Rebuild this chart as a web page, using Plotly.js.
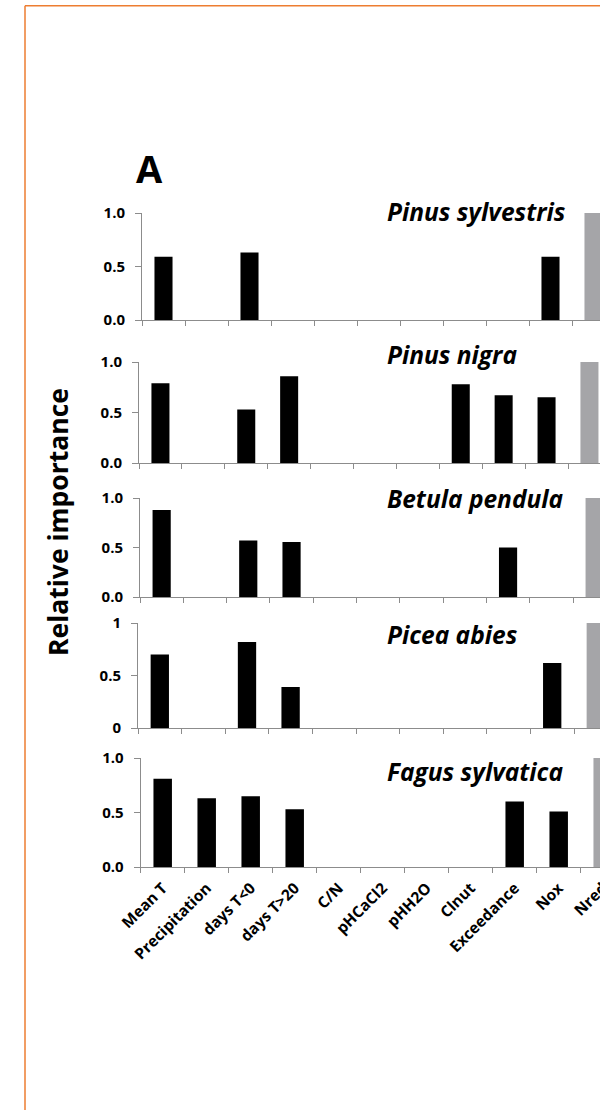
<!DOCTYPE html>
<html><head><meta charset="utf-8">
<script src="https://cdn.plot.ly/plotly-3.0.1.min.js"></script>
<style>html,body{margin:0;padding:0;overflow:hidden;background:#fff;width:600px;height:1110px}</style>
</head><body><div id="chart" style="width:640px;height:1110px"></div>
<script>
// ---- data ----
const categories = ["Mean T","Precipitation","days T<0","days T>20","C/N","pHCaCl2","pHH2O","Clnut","Exceedance","Nox","Nred"];
const tickLabels = ["Mean T","Precipitation","days T&lt;0","days T&gt;20","C/N","pHCaCl2","pHH2O","Clnut","Exceedance","Nox","Nred"];
const species = ["Pinus sylvestris","Pinus nigra","Betula pendula","Picea abies","Fagus sylvatica"];
const pinusSylvestris = [0.59, 0, 0.63, 0, 0, 0, 0, 0, 0, 0.59, 1.0];
const pinusNigra      = [0.79, 0, 0.53, 0.86, 0, 0, 0, 0.78, 0.67, 0.65, 1.0];
const betulaPendula   = [0.88, 0, 0.57, 0.555, 0, 0, 0, 0, 0.50, 0, 1.0];
const piceaAbies      = [0.70, 0, 0.82, 0.39, 0, 0, 0, 0, 0, 0.62, 1.0];
const fagusSylvatica  = [0.81, 0.63, 0.65, 0.53, 0, 0, 0, 0, 0.60, 0.51, 1.0];
const yTickVals = [0, 0.5, 1];
const yTickTextDecimal = ["0.0", "0.5", "1.0"];
const yTickTextPlain = ["0", "0.5", "1"];
const highlightCategory = "Nred";

// ---- layout constants ----
const W = 640, H = 1110;
const FONT = "Open Sans, Noto Sans, sans-serif";
const seriesList = [pinusSylvestris, pinusNigra, betulaPendula, piceaAbies, fagusSylvatica];
const panelX = [[142, 43.0], [139, 42.9], [140, 43.3], [138, 43.6], [140.7, 44.0]];
const panelY = [[213, 320], [362, 463], [498, 597], [623, 728], [758, 867]];
const titleY = [211, 354.5, 498, 634, 771];
const plainTicksPanel = 3;
const axisGray = "#8c8c8c";

const barColors = categories.map(c => c === highlightCategory ? "#a5a5a8" : "#000000");

const traces = [];
const layout = {
  width: W, height: H,
  margin: {l: 0, r: 0, t: 0, b: 0},
  paper_bgcolor: "#fff", plot_bgcolor: "rgba(0,0,0,0)",
  showlegend: false,
  bargap: 0.58,
  font: {family: FONT, color: "#000"},
  annotations: [],
  shapes: []
};

seriesList.forEach((vals, i) => {
  const sfx = i === 0 ? "" : String(i + 1);
  traces.push({
    type: "bar", x: categories, y: vals,
    xaxis: "x" + sfx, yaxis: "y" + sfx,
    marker: {color: barColors, line: {width: 0}},
    hoverinfo: "x+y"
  });
  const [x0, cw] = panelX[i];
  const [yt, yb] = panelY[i];
  layout["xaxis" + sfx] = {
    anchor: "y" + sfx,
    domain: [x0 / W, (x0 + 11 * cw) / W],
    type: "category", range: [-0.5, 10.5],
    tickson: "boundaries", ticks: "outside", ticklen: 5, tickcolor: axisGray, tickwidth: 1,
    showline: true, linecolor: axisGray, linewidth: 1,
    showgrid: false, zeroline: false,
    tickmode: "array", tickvals: categories, ticktext: tickLabels,
    showticklabels: i === seriesList.length - 1,
    tickangle: -45,
    ticklabelstandoff: 5,
    tickfont: {family: FONT, size: 15.5, color: "#000", weight: "bold"},
    fixedrange: true
  };
  layout["yaxis" + sfx] = {
    anchor: "x" + sfx,
    domain: [1 - yb / H, 1 - yt / H],
    range: [0, 1],
    tickmode: "array", tickvals: yTickVals,
    ticktext: i === plainTicksPanel ? yTickTextPlain : yTickTextDecimal,
    ticks: "outside", ticklen: 6, tickcolor: axisGray, tickwidth: 1,
    showline: true, linecolor: axisGray, linewidth: 1,
    showgrid: false, zeroline: false,
    ticklabelstandoff: 7,
    tickfont: {family: FONT, size: 15, color: "#000", weight: "bold"},
    fixedrange: true
  };
  layout.annotations.push({
    text: "<b><i>" + species[i] + "</i></b>",
    xref: "paper", yref: "paper",
    x: 385 / W, y: 1 - titleY[i] / H,
    xanchor: "left", yanchor: "middle",
    showarrow: false,
    font: {family: FONT, size: 24.5, color: "#000"}
  });
});

layout.annotations.push({
  text: "<b>A</b>", xref: "paper", yref: "paper",
  x: 149.5 / W, y: 1 - 168 / H, xanchor: "center", yanchor: "middle",
  showarrow: false, font: {family: FONT, size: 38, color: "#000"}
});
layout.annotations.push({
  text: "<b>Relative importance</b>", xref: "paper", yref: "paper",
  x: 58 / W, y: 1 - 522 / H, xanchor: "center", yanchor: "middle",
  textangle: -90, showarrow: false, font: {family: FONT, size: 26.5, color: "#000"}
});

const bx = 25 / W, by = 1 - 5.7 / H;
layout.shapes.push({type: "line", xref: "paper", yref: "paper", x0: bx, y0: by, x1: 1, y1: by, line: {color: "#ED7D31", width: 1.5}});
layout.shapes.push({type: "line", xref: "paper", yref: "paper", x0: bx, y0: by, x1: bx, y1: 0, line: {color: "#ED7D31", width: 1.5}});

Plotly.newPlot("chart", traces, layout, {displayModeBar: false, staticPlot: true});
</script>
</body></html>
